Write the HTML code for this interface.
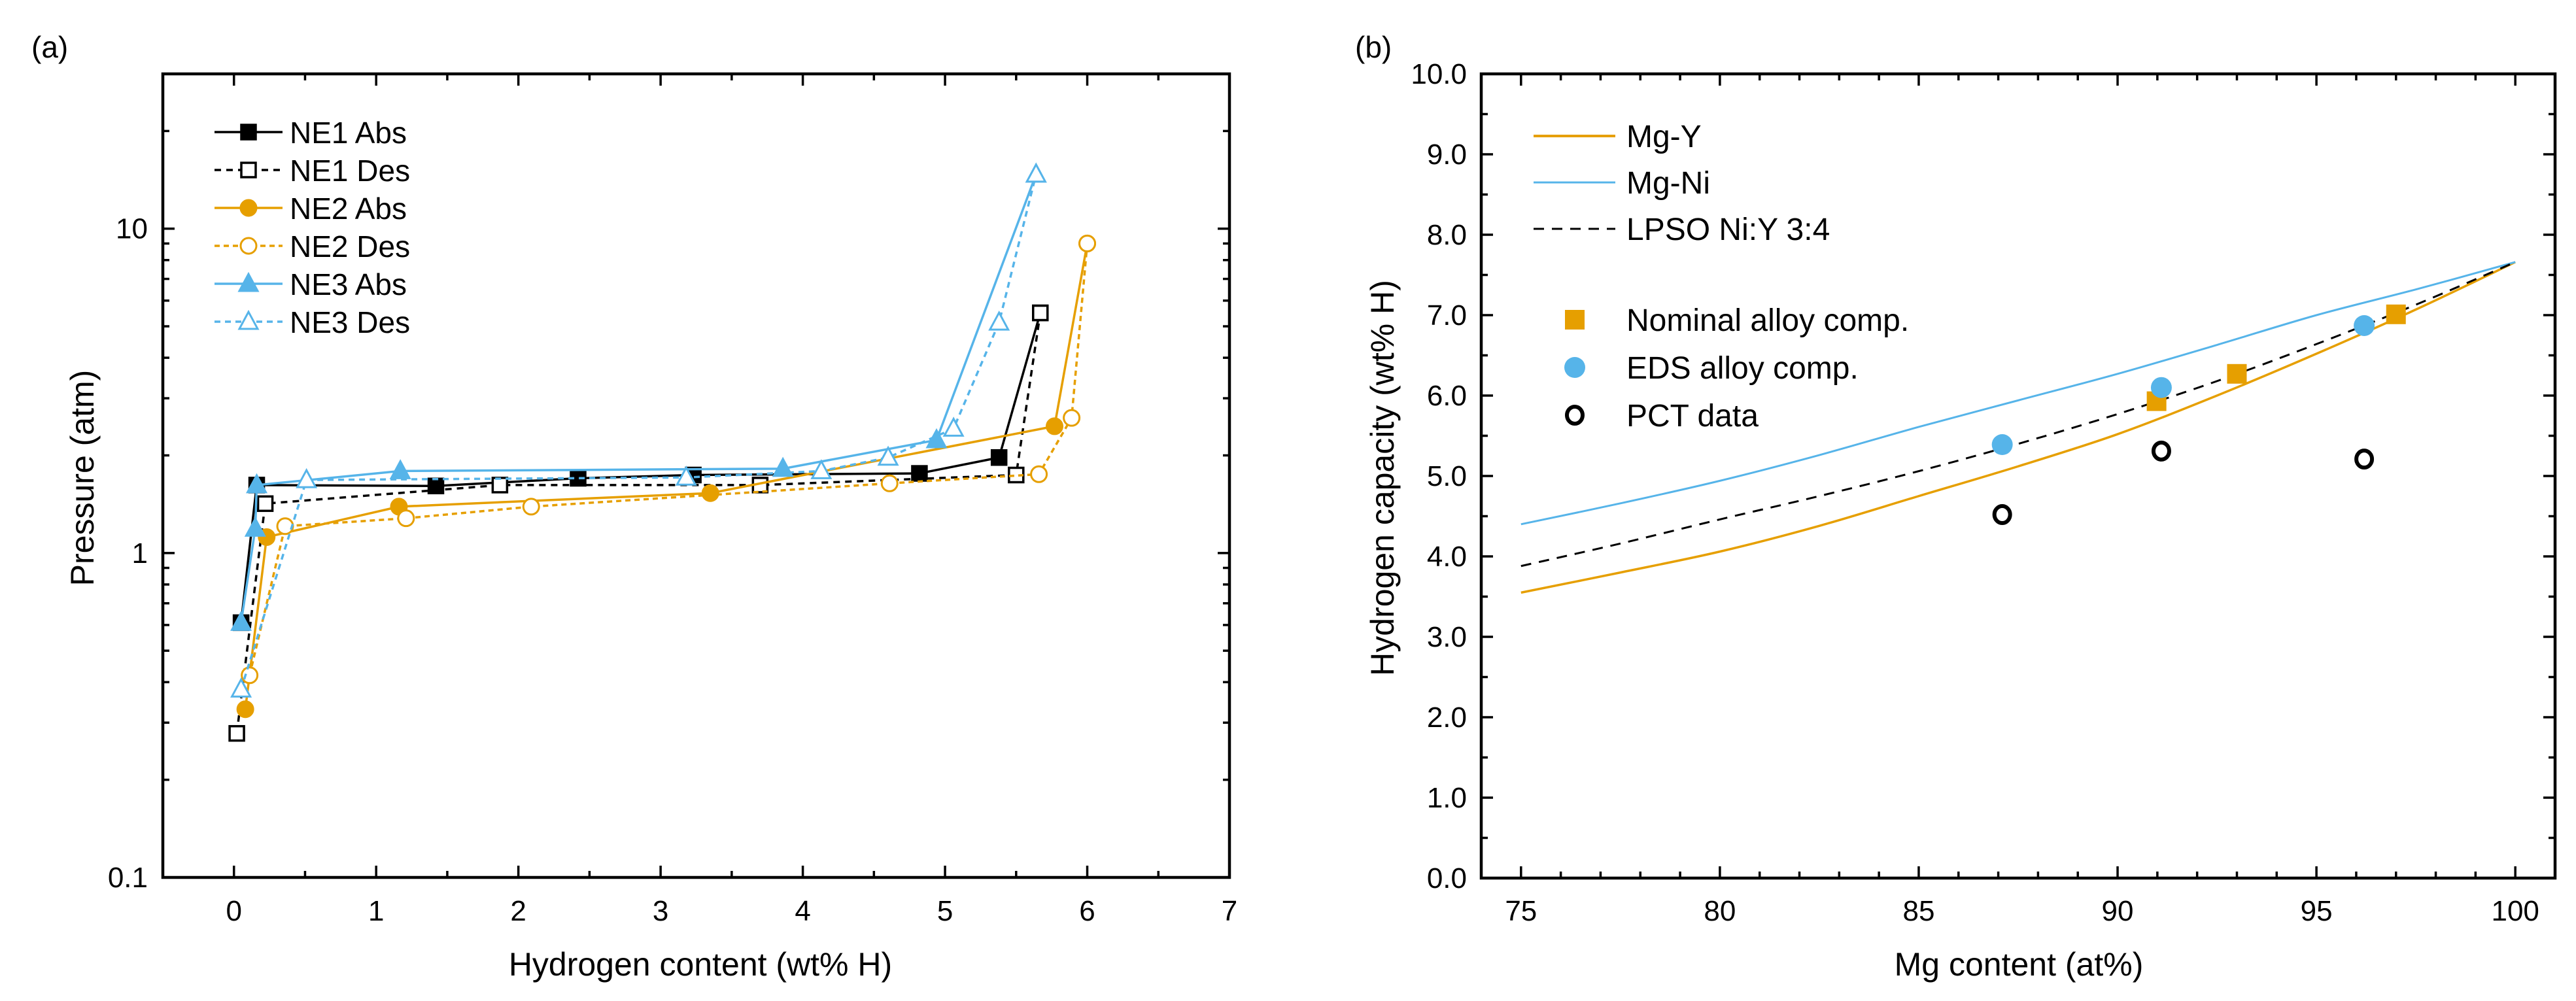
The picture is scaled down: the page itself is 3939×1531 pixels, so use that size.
<!DOCTYPE html>
<html><head><meta charset="utf-8"><style>
html,body{margin:0;padding:0;background:#fff;}
svg{display:block;font-family:"Liberation Sans",Arial,sans-serif;}
</style></head><body>
<svg id="fig" width="3939" height="1531" viewBox="0 0 3939 1531" xmlns="http://www.w3.org/2000/svg">
<rect x="0" y="0" width="3939" height="1531" fill="#fff"/>
<g id="pa"></g>
<g id="pb"></g>
</svg>
<script>
// ---------- Panel (a) data ----------
const ne1AbsX = [0.05, 0.16, 1.42, 2.42, 3.23, 4.82, 5.38, 5.67];
const ne1AbsY = [0.61, 1.62, 1.61, 1.70, 1.74, 1.76, 1.97, 5.5];
const ne1DesX = [0.02, 0.22, 1.87, 3.70, 5.50, 5.67];
const ne1DesY = [0.278, 1.42, 1.62, 1.62, 1.74, 5.5];
const ne2AbsX = [0.08, 0.23, 1.16, 3.35, 5.77, 6.00];
const ne2AbsY = [0.33, 1.12, 1.39, 1.53, 2.46, 9.0];
const ne2DesX = [0.11, 0.36, 1.21, 2.09, 4.61, 5.66, 5.89, 6.00];
const ne2DesY = [0.42, 1.21, 1.28, 1.39, 1.64, 1.75, 2.61, 9.0];
const ne3AbsX = [0.05, 0.15, 0.16, 1.17, 3.86, 4.94, 5.64];
const ne3AbsY = [0.61, 1.19, 1.62, 1.79, 1.82, 2.23, 14.7];
const ne3DesX = [0.05, 0.51, 3.18, 4.13, 4.60, 5.06, 5.38, 5.64];
const ne3DesY = [0.38, 1.68, 1.71, 1.79, 1.97, 2.42, 5.14, 14.7];
const aXTicks = [0,1,2,3,4,5,6,7];
const aYTicks = [0.1, 1, 10];
const aYTickLabels = ["0.1","1","10"];
const aLegend = ["NE1 Abs","NE1 Des","NE2 Abs","NE2 Des","NE3 Abs","NE3 Des"];

// ---------- Panel (b) data ----------
const mgContent = [75, 77.5, 80, 82.5, 85, 87.5, 90, 92.5, 95, 97.5, 100];
const mgYCap = [3.55, 3.80, 4.06, 4.38, 4.75, 5.12, 5.52, 6.00, 6.52, 7.07, 7.66];
const mgNiCap = [4.40, 4.66, 4.94, 5.26, 5.61, 5.94, 6.27, 6.63, 7.00, 7.32, 7.66];
const lpsoCap = [3.88, 4.16, 4.46, 4.75, 5.06, 5.40, 5.77, 6.18, 6.64, 7.13, 7.66];
const nominalX = [90.98, 93.0, 97.0];
const nominalY = [5.93, 6.27, 7.01];
const edsX = [87.1, 91.1, 96.2];
const edsY = [5.39, 6.10, 6.87];
const pctX = [87.1, 91.1, 96.2];
const pctY = [4.52, 5.31, 5.21];
const bXTicks = [75,80,85,90,95,100];
const bYTicks = [0,1,2,3,4,5,6,7,8,9,10];

const NS="http://www.w3.org/2000/svg";
const ORANGE="#E69F00", BLUE="#56B4E9";
function mk(parent, tag, attrs, text){
  const e=document.createElementNS(NS,tag);
  for(const k in attrs) e.setAttribute(k,attrs[k]);
  if(text!==undefined) e.textContent=text;
  parent.appendChild(e); return e;
}

// ===== Panel A axes =====
const A={l:249,r:1880,t:113,b:1342,x0:-0.5,x1:7,lg0:-1,lg1:Math.log10(30)};
function ax(v){return A.l+(v-A.x0)/(A.x1-A.x0)*(A.r-A.l);}
function ay(v){return A.b-(Math.log10(v)-A.lg0)/(A.lg1-A.lg0)*(A.b-A.t);}
const pa=document.getElementById('pa');

let t=mk(pa,'text',{x:48,y:88,'font-size':46},'(a)');



const aTicks=mk(pa,'g',{stroke:'#000','stroke-width':3.5});


for(let v=-0.5; v<=7.001; v+=0.5){
  const x=ax(v); const major=Math.abs(v-Math.round(v))<1e-6 && v>=0;
  const L=major?18:10;
  mk(aTicks,'line',{x1:x,y1:A.b,x2:x,y2:A.b-L});
  mk(aTicks,'line',{x1:x,y1:A.t,x2:x,y2:A.t+L});
}
for(let d=-1; d<=1; d++){
  for(let m=1;m<=9;m++){
    const v=m*Math.pow(10,d); if(v>30.01) continue;
    const y=ay(v); const L=m===1?18:10;
    mk(aTicks,'line',{x1:A.l,y1:y,x2:A.l+L,y2:y});
    mk(aTicks,'line',{x1:A.r,y1:y,x2:A.r-L,y2:y});
  }
}
aXTicks.forEach(v=>{
  const e=mk(pa,'text',{x:ax(v),y:1408,'font-size':44,'text-anchor':'middle'},String(v));
  
  
});
aYTicks.forEach((v,i)=>{
  const e=mk(pa,'text',{x:226,y:ay(v)+15,'font-size':44,'text-anchor':'end'},aYTickLabels[i]);
  
  
});
t=mk(pa,'text',{x:1071,y:1492,'font-size':50,'text-anchor':'middle'},'Hydrogen content (wt% H)');


t=mk(pa,'text',{x:0,y:0,'font-size':50,'text-anchor':'middle',transform:'translate(143,731) rotate(-90)'},'Pressure (atm)');



function marker(g,shape,x,y,color,filled){
  const f=filled?color:'#fff';
  if(shape==='sq') return mk(g,'rect',{x:x-11,y:y-11,width:22,height:22,fill:f,stroke:color,'stroke-width':3.5});
  if(shape==='ci') return mk(g,'ellipse',{cx:x,cy:y,rx:12,ry:12,fill:f,stroke:color,'stroke-width':3});
  if(shape==='tr') return mk(g,'polygon',{points:`${x},${y-15} ${x-14},${y+11} ${x+14},${y+11}`,fill:f,stroke:color,'stroke-width':3});
}
const aSeries=[
  {xs:ne1AbsX,ys:ne1AbsY,c:'#000',dash:'',sh:'sq',f:true,n:'ne1-abs'},
  {xs:ne1DesX,ys:ne1DesY,c:'#000',dash:'10,8',sh:'sq',f:false,n:'ne1-des'},
  {xs:ne2AbsX,ys:ne2AbsY,c:ORANGE,dash:'',sh:'ci',f:true,n:'ne2-abs'},
  {xs:ne2DesX,ys:ne2DesY,c:ORANGE,dash:'8,6',sh:'ci',f:false,n:'ne2-des'},
  {xs:ne3AbsX,ys:ne3AbsY,c:BLUE,dash:'',sh:'tr',f:true,n:'ne3-abs'},
  {xs:ne3DesX,ys:ne3DesY,c:BLUE,dash:'9,7',sh:'tr',f:false,n:'ne3-des'}
];
aSeries.forEach(s=>{
  const g=mk(pa,'g',{});
  
  
  const pts=s.xs.map((x,i)=>ax(x)+','+ay(s.ys[i])).join(' ');
  const pl=mk(g,'polyline',{points:pts,fill:'none',stroke:s.c,'stroke-width':3.5,'stroke-dasharray':s.dash});
  
  
  s.xs.forEach((x,i)=>{
    const m=marker(g,s.sh,ax(x),ay(s.ys[i]),s.c,s.f);
    
    
  });
});
const la=mk(pa,'g',{});


aSeries.forEach((s,i)=>{
  const y=202+i*58;
  const g=mk(la,'g',{});
  
  
  mk(g,'line',{x1:328,y1:y,x2:432,y2:y,stroke:s.c,'stroke-width':3.5,'stroke-dasharray':s.dash});
  marker(g,s.sh,380,y,s.c,s.f);
  mk(g,'text',{x:443,y:y+17,'font-size':46},aLegend[i]);
});
t=mk(pa,'rect',{x:A.l,y:A.t,width:A.r-A.l,height:A.b-A.t,fill:'none',stroke:'#000','stroke-width':4.5});



// ===== Panel B =====
const B={l:2265,r:3907,t:113,b:1343,x0:74,x1:101,y0:0,y1:10};
function bx(v){return B.l+(v-B.x0)/(B.x1-B.x0)*(B.r-B.l);}
function by(v){return B.b-(v-B.y0)/(B.y1-B.y0)*(B.b-B.t);}
const pb=document.getElementById('pb');
t=mk(pb,'text',{x:2072,y:88,'font-size':46},'(b)');


const bT=mk(pb,'g',{stroke:'#000','stroke-width':3.5});


for(let v=74; v<=101; v++){
  const x=bx(v); const L=(v%5===0)?18:10;
  mk(bT,'line',{x1:x,y1:B.b,x2:x,y2:B.b-L});
  mk(bT,'line',{x1:x,y1:B.t,x2:x,y2:B.t+L});
}
for(let v=0; v<=10.001; v+=0.5){
  const y=by(v); const L=(Math.abs(v-Math.round(v))<1e-6)?18:10;
  mk(bT,'line',{x1:B.l,y1:y,x2:B.l+L,y2:y});
  mk(bT,'line',{x1:B.r,y1:y,x2:B.r-L,y2:y});
}
bXTicks.forEach(v=>{
  const e=mk(pb,'text',{x:bx(v),y:1408,'font-size':44,'text-anchor':'middle'},String(v));
  
  
});
bYTicks.forEach(v=>{
  const e=mk(pb,'text',{x:2243,y:by(v)+15,'font-size':44,'text-anchor':'end'},v.toFixed(1));
  
  
});
t=mk(pb,'text',{x:3087,y:1492,'font-size':50,'text-anchor':'middle'},'Mg content (at%)');


t=mk(pb,'text',{x:0,y:0,'font-size':50,'text-anchor':'middle',transform:'translate(2131,731) rotate(-90)'},'Hydrogen capacity (wt% H)');



function smooth(xs,ys){
  const p=xs.map((x,i)=>[bx(x),by(ys[i])]);
  let d='M'+p[0][0]+','+p[0][1];
  for(let i=0;i<p.length-1;i++){
    const p0=p[Math.max(0,i-1)],p1=p[i],p2=p[i+1],p3=p[Math.min(p.length-1,i+2)];
    const c1=[p1[0]+(p2[0]-p0[0])/6,p1[1]+(p2[1]-p0[1])/6];
    const c2=[p2[0]-(p3[0]-p1[0])/6,p2[1]-(p3[1]-p1[1])/6];
    d+=` C${c1[0]},${c1[1]} ${c2[0]},${c2[1]} ${p2[0]},${p2[1]}`;
  }
  return d;
}
t=mk(pb,'path',{d:smooth(mgContent,mgYCap),fill:'none',stroke:ORANGE,'stroke-width':3.5});


t=mk(pb,'path',{d:smooth(mgContent,mgNiCap),fill:'none',stroke:BLUE,'stroke-width':3});


t=mk(pb,'path',{d:smooth(mgContent,lpsoCap),fill:'none',stroke:'#000','stroke-width':3,'stroke-dasharray':'16,12'});


nominalX.forEach((x,i)=>{
  const e=mk(pb,'rect',{x:bx(x)-15,y:by(nominalY[i])-15,width:30,height:30,fill:ORANGE});
  
  
});
edsX.forEach((x,i)=>{
  const e=mk(pb,'ellipse',{cx:bx(x),cy:by(edsY[i]),rx:16,ry:16,fill:BLUE});
  
  
});
pctX.forEach((x,i)=>{
  const e=mk(pb,'ellipse',{cx:bx(x),cy:by(pctY[i]),rx:12,ry:13,fill:'none',stroke:'#000','stroke-width':6});
  
  
});
const lb=mk(pb,'g',{});


const lbLines=[['Mg-Y',ORANGE,'',4],['Mg-Ni',BLUE,'',3],['LPSO Ni:Y 3:4','#000','16,12',3]];
lbLines.forEach((r,i)=>{
  const y=208+i*71;
  const g=mk(lb,'g',{});
  
  
  mk(g,'line',{x1:2345,y1:y,x2:2470,y2:y,stroke:r[1],'stroke-width':r[3],'stroke-dasharray':r[2]});
  mk(g,'text',{x:2487,y:y+17,'font-size':48},r[0]);
});
const lbM=['Nominal alloy comp.','EDS alloy comp.','PCT data'];
lbM.forEach((s,i)=>{
  const y=489+i*73;
  const g=mk(lb,'g',{});
  
  
  if(i===0) mk(g,'rect',{x:2393,y:y-15,width:30,height:30,fill:ORANGE});
  if(i===1) mk(g,'ellipse',{cx:2408,cy:y,rx:16,ry:16,fill:BLUE});
  if(i===2) mk(g,'ellipse',{cx:2408,cy:y,rx:12,ry:13,fill:'none',stroke:'#000','stroke-width':6});
  mk(g,'text',{x:2487,y:y+17,'font-size':48},s);
});
t=mk(pb,'rect',{x:B.l,y:B.t,width:B.r-B.l,height:B.b-B.t,fill:'none',stroke:'#000','stroke-width':4.5});


</script>
</body></html>
